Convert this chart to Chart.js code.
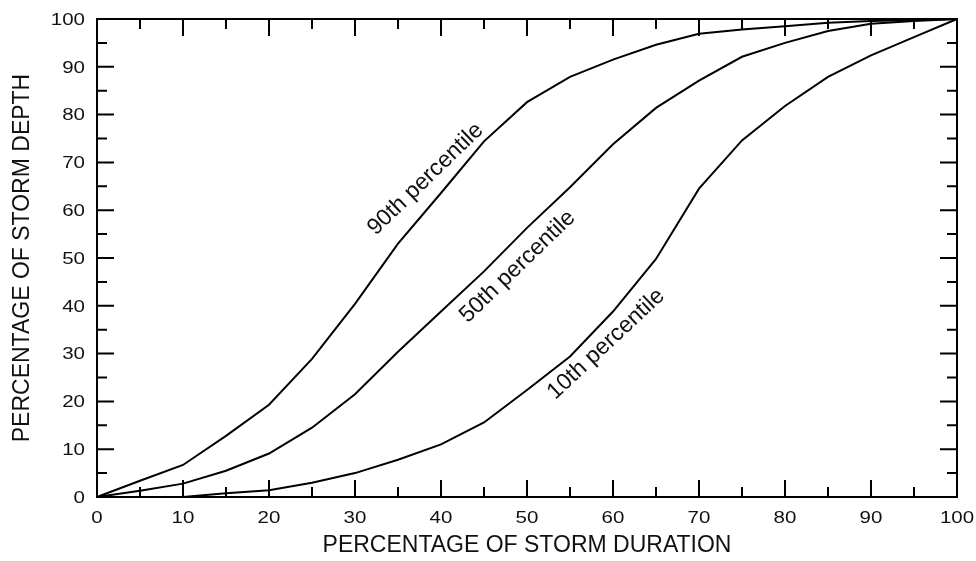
<!DOCTYPE html>
<html>
<head>
<meta charset="utf-8">
<title>Storm depth vs duration</title>
<script src="https://cdn.jsdelivr.net/npm/chart.js@4.4.1/dist/chart.umd.min.js"></script>
<style>
  html, body { margin: 0; padding: 0; background: #fff; }
  #wrap { width: 976px; height: 561px; }
</style>
</head>
<body>
<div id="wrap"><canvas id="depthChart"></canvas></div>
<script>
// cumulative storm depth (%) against storm duration (%)
const durationPct = [0, 5, 10, 15, 20, 25, 30, 35, 40, 45, 50, 55, 60, 65, 70, 75, 80, 85, 90, 95, 100];
const depth90 = [0, 3.4, 6.7, 12.8, 19.3, 28.9, 40.4, 53.0, 63.6, 74.4, 82.6, 87.9, 91.5, 94.6, 96.9, 97.8, 98.5, 99.2, 99.6, 99.8, 100];
const depth50 = [0, 1.3, 2.8, 5.5, 9.1, 14.5, 21.5, 30.4, 38.8, 47.2, 56.3, 64.8, 73.8, 81.4, 87.1, 92.1, 95.0, 97.5, 99.0, 99.6, 100];
const depth10 = [0, 0, 0, 0.8, 1.4, 3.0, 5.0, 7.8, 11.0, 15.6, 22.4, 29.4, 38.8, 49.8, 64.5, 74.6, 81.8, 87.9, 92.4, 96.2, 100];

const seriesNames = ['90th percentile', '50th percentile', '10th percentile'];
const xTicks = [0, 10, 20, 30, 40, 50, 60, 70, 80, 90, 100];
const yTicks = [0, 10, 20, 30, 40, 50, 60, 70, 80, 90, 100];

const FONT = '"Liberation Sans", Arial, Helvetica, sans-serif';

function toPoints(ys) {
  return durationPct.map((x, i) => ({ x: x, y: ys[i] }));
}

// where each curve gets its name written (data units) and the text angle
const curveTags = [
  { x: 38.2, y: 66.5, angle: -44 },
  { x: 48.9, y: 48.2, angle: -44 },
  { x: 59.2, y: 32.0, angle: -43 }
];

// boxed frame with inward ticks on all four sides, plus the tick numbers
const framePlugin = {
  id: 'framePlugin',
  afterDatasetsDraw(chart) {
    const { ctx, chartArea: a, scales } = chart;
    const xs = scales.x, ys = scales.y;
    ctx.save();
    ctx.strokeStyle = '#000';
    ctx.lineWidth = 2;
    ctx.strokeRect(a.left, a.top, a.right - a.left, a.bottom - a.top);

    ctx.lineWidth = 2;
    ctx.beginPath();
    for (let v = 5; v < 100; v += 5) {
      const len = v % 10 === 0 ? 17 : 10;
      const px = xs.getPixelForValue(v);
      ctx.moveTo(px, a.bottom); ctx.lineTo(px, a.bottom - len);
      ctx.moveTo(px, a.top); ctx.lineTo(px, a.top + len);
      const py = ys.getPixelForValue(v);
      ctx.moveTo(a.left, py); ctx.lineTo(a.left + len, py);
      ctx.moveTo(a.right, py); ctx.lineTo(a.right - len, py);
    }
    ctx.stroke();

    ctx.fillStyle = '#111';
    ctx.font = '16px ' + FONT;
    ctx.textBaseline = 'alphabetic';
    xs.ticks.forEach(t => {
      drawWide(ctx, String(t.value), xs.getPixelForValue(t.value), a.bottom + 26, 'center');
    });
    ys.ticks.forEach(t => {
      drawWide(ctx, String(t.value), a.left - 12, ys.getPixelForValue(t.value) + 5.7, 'right');
    });

    ctx.font = '23px ' + FONT;
    ctx.textAlign = 'center';
    ctx.textBaseline = 'middle';
    curveTags.forEach((tag, i) => {
      ctx.save();
      ctx.translate(xs.getPixelForValue(tag.x), ys.getPixelForValue(tag.y));
      ctx.rotate(tag.angle * Math.PI / 180);
      ctx.fillText(seriesNames[i], 0, 0);
      ctx.restore();
    });
    ctx.restore();
  }
};

function drawWide(ctx, text, x, y, align) {
  ctx.save();
  ctx.translate(x, y);
  ctx.scale(1.28, 1);
  ctx.textAlign = align;
  ctx.fillText(text, 0, 0);
  ctx.restore();
}

const lineStyle = {
  borderColor: '#000',
  borderWidth: 2,
  pointRadius: 0,
  tension: 0,
  fill: false,
  clip: false
};

new Chart(document.getElementById('depthChart'), {
  type: 'line',
  data: {
    datasets: [
      Object.assign({ label: seriesNames[0], data: toPoints(depth90) }, lineStyle),
      Object.assign({ label: seriesNames[1], data: toPoints(depth50) }, lineStyle),
      Object.assign({ label: seriesNames[2], data: toPoints(depth10) }, lineStyle)
    ]
  },
  options: {
    responsive: true,
    maintainAspectRatio: false,
    animation: false,
    layout: { padding: { top: 19, right: 19, left: 0, bottom: 0 } },
    plugins: {
      legend: { display: false },
      tooltip: { enabled: false }
    },
    scales: {
      x: {
        type: 'linear',
        min: 0,
        max: 100,
        afterBuildTicks: s => { s.ticks = xTicks.map(v => ({ value: v })); },
        afterFit: s => { s.height = 64; },
        grid: { display: false },
        border: { display: false },
        ticks: { display: false },
        title: {
          display: true,
          text: 'PERCENTAGE OF STORM DURATION',
          color: '#111',
          font: { family: FONT, size: 23 },
          padding: { top: 0, bottom: 2 }
        }
      },
      y: {
        type: 'linear',
        min: 0,
        max: 100,
        afterBuildTicks: s => { s.ticks = yTicks.map(v => ({ value: v })); },
        afterFit: s => { s.width = 97; },
        grid: { display: false },
        border: { display: false },
        ticks: { display: false },
        title: {
          display: true,
          text: 'PERCENTAGE OF STORM DEPTH',
          color: '#111',
          font: { family: FONT, size: 23 },
          padding: { top: 9, bottom: 0 }
        }
      }
    }
  },
  plugins: [framePlugin]
});
</script>
</body>
</html>
